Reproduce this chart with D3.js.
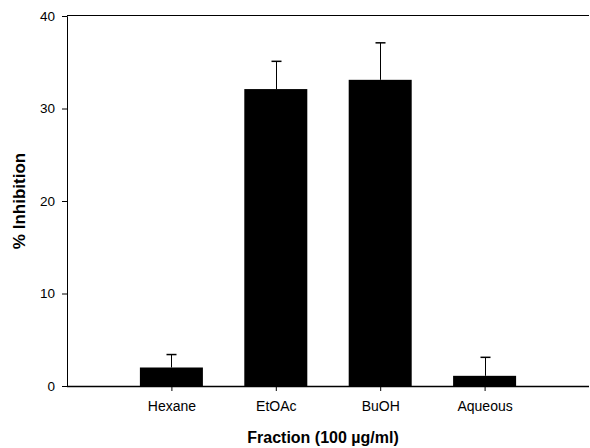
<!DOCTYPE html>
<html><head><meta charset="utf-8">
<script src="https://cdn.jsdelivr.net/npm/d3@7"></script>
<style>body{margin:0;background:#fff}svg{display:block}text{font-family:"Liberation Sans",Arial,sans-serif}</style>
</head><body><svg id="c" width="590" height="448"></svg>
<script>
const categories = ["Hexane", "EtOAc", "BuOH", "Aqueous"];
const values = [2.0, 32.1, 33.1, 1.1];
const errors = [1.4, 3.0, 4.0, 2.0];
const yTicks = [0, 10, 20, 30, 40];

const svg = d3.select("#c");
const mLeft = 67, mRight = 589, mTop = 16, mBottom = 386;
const x = d3.scaleLinear().domain([0, 5]).range([mLeft, mRight]);
const y = d3.scaleLinear().domain([0, 40]).range([mBottom, mTop]);
const barW = 63;
const data = categories.map((c, i) => ({c, v: values[i], e: errors[i], pos: i + 1}));

// error bars (drawn first, upward only)
const eb = svg.append("g").attr("stroke", "#000").attr("stroke-width", 1);
data.forEach(d => {
  const cx = Math.round(x(d.pos)) + 0.5;
  eb.append("line").attr("x1", cx).attr("x2", cx).attr("y1", y(d.v)).attr("y2", y(d.v + d.e));
  eb.append("line").attr("x1", cx - 5).attr("x2", cx + 5).attr("y1", y(d.v + d.e)).attr("y2", y(d.v + d.e)).attr("stroke-width", 1.5);
});

svg.append("g").selectAll("rect").data(data).join("rect")
  .attr("x", d => x(d.pos) - barW / 2).attr("width", barW)
  .attr("y", d => y(d.v)).attr("height", d => y(0) - y(d.v))
  .attr("fill", "#000");

const ff = '"Liberation Sans",Arial,sans-serif';
// y axis
const ya = svg.append("g").attr("transform", `translate(${mLeft},0)`)
  .call(d3.axisLeft(y).tickValues(yTicks).tickSize(5).tickPadding(7).tickFormat(d3.format("d")));
ya.selectAll("text").attr("font-size", 13.5).attr("fill", "#000").style("font-family", ff);
ya.select(".domain").attr("stroke", "#000");

// x axis
const xa = svg.append("g").attr("transform", `translate(0,${mBottom})`)
  .call(d3.axisBottom(x).tickValues(data.map(d => d.pos)).tickSize(5).tickPadding(10).tickFormat((d, i) => categories[i]));
xa.select(".domain").remove();
xa.selectAll("text").attr("font-size", 14).attr("fill", "#000").style("font-family", ff);
svg.append("line").attr("x1", mLeft).attr("x2", mRight).attr("y1", mBottom + 0.5).attr("y2", mBottom + 0.5).attr("stroke", "#000").attr("stroke-width", 1.5);

// top line
svg.append("line").attr("x1", mLeft).attr("x2", mRight).attr("y1", mTop - 0.5).attr("y2", mTop - 0.5).attr("stroke", "#000");

// titles
svg.append("text").attr("x", 323).attr("y", 443).attr("text-anchor", "middle")
  .attr("font-size", 16).attr("font-weight", "bold").text("Fraction (100 µg/ml)");
svg.append("text").attr("transform", "translate(25,201) rotate(-90)").attr("text-anchor", "middle")
  .attr("font-size", 17).attr("font-weight", "bold").text("% Inhibition");
</script></body></html>
